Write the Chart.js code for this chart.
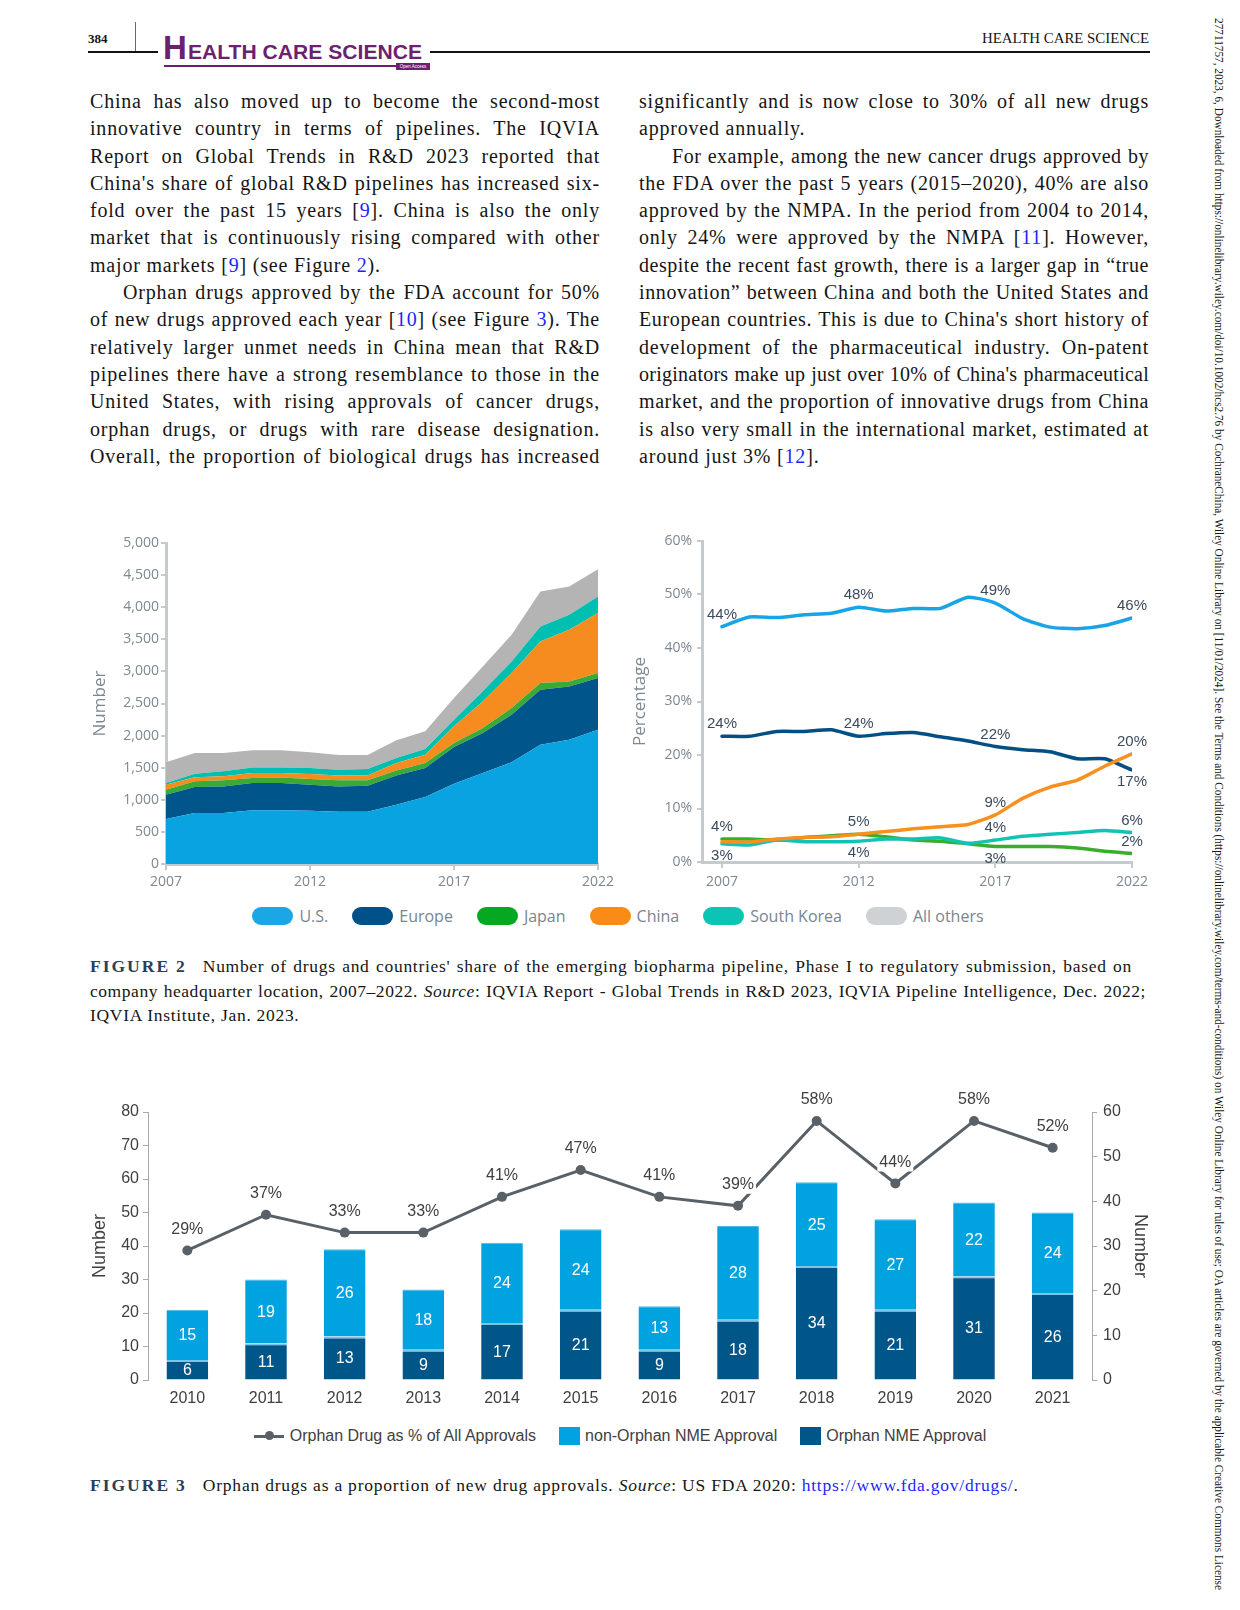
<!DOCTYPE html>
<html><head><meta charset="utf-8">
<script src="https://cdn.jsdelivr.net/npm/chart.js@4.4.0/dist/chart.umd.min.js"></script>
<style>
html,body{margin:0;padding:0;background:#fff;}
#page{position:relative;width:1240px;height:1610px;overflow:hidden;font-family:"Liberation Serif",serif;color:#151515;background:#fff;}
.abs{position:absolute;}
.col{position:absolute;width:510px;font-size:20px;line-height:27.3px;}
.ln{display:block;white-space:nowrap;height:27.3px;}
.ln .t{display:inline-block;white-space:nowrap;}
.ref{color:#1f1fff;}
.cap{position:absolute;left:90px;font-size:17.5px;line-height:24.5px;}
.cap .ln{height:24.5px;}
.fig{font-weight:bold;letter-spacing:2px;color:#2b3d57;margin-right:16px;}
.leg{position:absolute;display:flex;justify-content:center;align-items:center;}
.leg .it{display:flex;align-items:center;}
canvas{position:absolute;}
</style>
</head><body><div id="page">

<!-- header -->
<div class="abs" style="left:88px;top:31px;font:bold 13px 'Liberation Serif';">384</div>
<div class="abs" style="left:135px;top:22px;width:1px;height:30px;background:#8b5e3c;"></div>
<div class="abs" style="left:88px;top:51px;width:1062px;height:2px;background:#111;"></div>
<div class="abs" style="left:158px;top:32px;width:272px;height:40px;background:#fff;"></div>
<div class="abs" style="left:163px;top:31px;font:bold 33px 'Liberation Sans';line-height:33px;color:#6d1f70;">H</div>
<div class="abs" id="logoText" style="left:188px;top:41px;font:bold 21px 'Liberation Sans Narrow','Liberation Sans';line-height:21px;color:#6d1f70;transform-origin:0 0;white-space:nowrap;">EALTH CARE SCIENCE</div>
<div class="abs" style="left:164px;top:65px;width:232px;height:2px;background:#6d1f70;"></div>
<div class="abs" style="left:396px;top:63px;width:34px;height:7px;background:#6d1f70;color:#fff;font:4.5px 'Liberation Sans';line-height:7px;text-align:center;">Open Access</div>
<div class="abs" id="hdrRight" style="left:982px;top:31px;font:14px 'Liberation Serif';white-space:nowrap;transform-origin:0 0;">HEALTH CARE SCIENCE</div>

<!-- right margin -->
<div class="abs" id="margin" style="left:1211px;top:18px;writing-mode:vertical-rl;font:13px 'Liberation Serif';white-space:nowrap;transform-origin:0 0;">27711757, 2023, 6, Downloaded from https://onlinelibrary.wiley.com/doi/10.1002/hcs2.76 by CochraneChina, Wiley Online Library on [11/01/2024]. See the Terms and Conditions (https://onlinelibrary.wiley.com/terms-and-conditions) on Wiley Online Library for rules of use; OA articles are governed by the applicable Creative Commons License</div>

<div class="col" id="colL" style="left:90px;top:88px;"></div>
<div class="col" id="colR" style="left:639px;top:88px;"></div>

<canvas id="areaChart" width="545" height="385" style="left:80px;top:515px;width:545px;height:385px;"></canvas>
<canvas id="shareChart" width="545" height="385" style="left:615px;top:515px;width:545px;height:385px;"></canvas>
<div class="leg" id="leg2" style="left:0;top:905px;width:1236px;height:22px;font:16px 'Open Sans';color:#7a858e;"></div>

<div class="cap" id="cap2" style="top:954px;"></div>

<canvas id="orphanChart" width="1070" height="345" style="left:85px;top:1065px;width:1070px;height:345px;"></canvas>
<div class="leg" id="leg3" style="left:0;top:1425px;width:1240px;height:22px;font:16px 'Liberation Sans';color:#404040;"></div>

<div class="cap" id="cap3" style="top:1473px;"></div>
</div>

<script>
// ---------------- DATA ----------------
const years = [2007,2008,2009,2010,2011,2012,2013,2014,2015,2016,2017,2018,2019,2020,2021,2022];
const yearTicks = [2007,2012,2017,2022];
const seriesNames = ['U.S.','Europe','Japan','China','South Korea','All others'];

// Number of drugs in pipeline (stacked area)
const usCount     = [700,794,794,836,836,830,815,815,924,1043,1251,1417,1583,1858,1936,2092];
const europeCount = [380,405,415,425,425,405,394,405,456,452,571,623,742,856,830,804];
const japanCount  = [77,88,94,78,88,88,94,83,78,78,62,78,104,104,78,78];
const chinaCount  = [78,63,62,78,68,78,77,77,115,129,260,415,545,649,805,934];
const koreaCount  = [26,57,78,88,88,94,89,99,77,88,104,156,182,234,233,260];
const othersCount = [322,321,285,265,265,244,228,218,276,276,337,389,415,544,441,425];
const countTicks = [0,500,1000,1500,2000,2500,3000,3500,4000,4500,5000];

// Share of pipeline (%)
const usShare     = [44.0,45.8,45.7,46.2,46.5,47.6,46.9,47.4,47.4,49.5,48.4,45.5,43.9,43.6,44.2,45.6];
const europeShare = [23.5,23.5,24.4,24.4,24.7,23.5,24.0,24.2,23.4,22.6,21.6,21.0,20.6,19.3,19.3,17.2];
const chinaShare  = [3.8,3.7,4.3,4.6,4.7,5.2,5.7,6.2,6.6,7.0,8.8,11.9,14.0,15.3,17.9,20.2];
const japanShare  = [4.3,4.3,4.1,4.6,4.9,5.2,4.7,4.1,3.9,3.4,2.9,2.9,2.9,2.6,2.0,1.6];
const koreaShare  = [3.4,3.2,4.1,3.8,3.8,3.9,4.3,4.3,4.5,3.5,4.1,4.8,5.2,5.5,5.9,5.5];
const shareTicks = [0,10,20,30,40,50,60];
const shareLabels = [
  ['U.S.',2007,'44%','above'],['U.S.',2012,'48%','above'],['U.S.',2017,'49%','above'],['U.S.',2022,'46%','above'],
  ['Europe',2007,'24%','above'],['Europe',2012,'24%','above'],['Europe',2017,'22%','above'],['Europe',2022,'17%','below'],
  ['China',2017,'9%','above'],['China',2022,'20%','above'],
  ['Japan',2007,'4%','above'],['South Korea',2007,'3%','below'],
  ['Japan',2012,'5%','above'],['South Korea',2012,'4%','below'],
  ['South Korea',2017,'4%','above'],['Japan',2017,'3%','below'],
  ['South Korea',2022,'6%','above'],['Japan',2022,'2%','above']
];

// FDA approvals
const approvalYears = ['2010','2011','2012','2013','2014','2015','2016','2017','2018','2019','2020','2021'];
const orphanNME    = [6,11,13,9,17,21,9,18,34,21,31,26];
const nonOrphanNME = [15,19,26,18,24,24,13,28,25,27,22,24];
const orphanPct    = [29,37,33,33,41,47,41,39,58,44,58,52];
const approvalSeries = ['Orphan Drug as % of All Approvals','non-Orphan NME Approval','Orphan NME Approval'];

// ---------------- STYLES ----------------
const areaColors  = {'U.S.':'#0aa3e2','Europe':'#00568a','Japan':'#3aa935','China':'#f68b1f','South Korea':'#00bfb0','All others':'#b4b4b4'};
const lineColors  = {'U.S.':'#19a4e6','Europe':'#024f84','Japan':'#3aae2c','China':'#f7901e','South Korea':'#14c2b3'};
const legendColors= {'U.S.':'#1ba6e6','Europe':'#00508a','Japan':'#06a822','China':'#f98b16','South Korea':'#0cc4b4','All others':'#cfd2d4'};
const grayTick = '#7d8891';
const axisGray = '#c5cacf';
const shareXLead = 0.73; // gap (in years) between y-axis and first year on share chart

// ---------------- TEXT ----------------
const leftLines = [
 ['China has also moved up to become the second-most',''],
 ['innovative country in terms of pipelines. The IQVIA',''],
 ['Report on Global Trends in R&amp;D 2023 reported that',''],
 ['China\'s share of global R&amp;D pipelines has increased six-',''],
 ['fold over the past 15 years [<span class="ref">9</span>]. China is also the only',''],
 ['market that is continuously rising compared with other',''],
 ['major markets [<span class="ref">9</span>] (see Figure <span class="ref">2</span>).','L'],
 ['Orphan drugs approved by the FDA account for 50%','I'],
 ['of new drugs approved each year [<span class="ref">10</span>] (see Figure <span class="ref">3</span>). The',''],
 ['relatively larger unmet needs in China mean that R&amp;D',''],
 ['pipelines there have a strong resemblance to those in the',''],
 ['United States, with rising approvals of cancer drugs,',''],
 ['orphan drugs, or drugs with rare disease designation.',''],
 ['Overall, the proportion of biological drugs has increased','']
];
const rightLines = [
 ['significantly and is now close to 30% of all new drugs',''],
 ['approved annually.','L'],
 ['For example, among the new cancer drugs approved by','I'],
 ['the FDA over the past 5 years (2015–2020), 40% are also',''],
 ['approved by the NMPA. In the period from 2004 to 2014,',''],
 ['only 24% were approved by the NMPA [<span class="ref">11</span>]. However,',''],
 ['despite the recent fast growth, there is a larger gap in “true',''],
 ['innovation” between China and both the United States and',''],
 ['European countries. This is due to China\'s short history of',''],
 ['development of the pharmaceutical industry. On-patent',''],
 ['originators make up just over 10% of China\'s pharmaceutical',''],
 ['market, and the proportion of innovative drugs from China',''],
 ['is also very small in the international market, estimated at',''],
 ['around just 3% [<span class="ref">12</span>].','L']
];
const cap2Lines = [
 ['<span class="fig">FIGURE<span style="margin-left:6px">2</span></span>Number of drugs and countries\' share of the emerging biopharma pipeline, Phase I to regulatory submission, based on',1042],
 ['company headquarter location, 2007–2022. <i>Source</i>: IQVIA Report - Global Trends in R&amp;D 2023, IQVIA Pipeline Intelligence, Dec. 2022;',1056],
 ['IQVIA Institute, Jan. 2023.',0]
];
const cap3Lines = [
 ['<span class="fig">FIGURE<span style="margin-left:6px">3</span></span>Orphan drugs as a proportion of new drug approvals. <i>Source</i>: US FDA 2020: <span class="ref">https://www.fda.gov/drugs/</span>.',-934]
];

function buildCol(id, lines, width){
  const col = document.getElementById(id);
  lines.forEach(([html,flag])=>{
    const d = document.createElement('div'); d.className='ln';
    const s = document.createElement('span'); s.className='t'; s.innerHTML=html;
    if(flag==='I') s.style.paddingLeft='33px';
    d.appendChild(s); col.appendChild(d);
    if(flag!=='L') fitLine(s, width, 0.8); else s.style.letterSpacing='0.8px';
  });
}
function buildCap(id, lines){
  const col = document.getElementById(id);
  lines.forEach(([html,w])=>{
    const d = document.createElement('div'); d.className='ln';
    const s = document.createElement('span'); s.className='t'; s.innerHTML=html;
    d.appendChild(s); col.appendChild(d);
    if(w>0) fitLine(s, w, 0.7);
    else if(w<0) fitLetters(s, -w);
    else s.style.letterSpacing='0.7px';
  });
}
function fitLine(el, target, ls0){
  el.style.letterSpacing=ls0+'px'; el.style.wordSpacing='0px';
  let w = el.getBoundingClientRect().width;
  const n = (el.textContent.match(/ /g)||[]).length;
  const c = el.textContent.length;
  if(n>0 && (target-w)/n < 0.8){
    const ls = ls0 + (target - w - n*0.8)/c;
    el.style.letterSpacing=ls+'px';
    w = el.getBoundingClientRect().width;
  }
  if(n>0) el.style.wordSpacing = ((target-w)/n)+'px';
}
function fitLetters(el, target){
  el.style.letterSpacing='0px';
  const w = el.getBoundingClientRect().width;
  el.style.letterSpacing = ((target-w)/el.textContent.length)+'px';
}
function fitScaleX(id, target){
  const el=document.getElementById(id); const w=el.getBoundingClientRect().width;
  el.style.transform='scaleX('+(target/w)+')';
}
function fitScaleY(id, target){
  const el=document.getElementById(id); const h=el.getBoundingClientRect().height;
  el.style.transform='scaleY('+(target/h)+')';
}

function buildLegends(){
  const l2 = document.getElementById('leg2'); l2.style.gap='24px';
  seriesNames.forEach(n=>{
    const it=document.createElement('div'); it.className='it';
    it.innerHTML='<span style="display:inline-block;width:41px;height:18px;border-radius:9px;background:'+legendColors[n]+';margin-right:6px"></span><span>'+n+'</span>';
    l2.appendChild(it);
  });
  const l3 = document.getElementById('leg3'); l3.style.gap='23px';
  const marks = [
    '<span style="position:relative;display:inline-block;width:30px;height:3px;background:#596168;margin-right:6px"><span style="position:absolute;left:11px;top:-3.5px;width:9px;height:9px;border-radius:50%;background:#596168"></span></span>',
    '<span style="display:inline-block;width:21px;height:18px;background:#00a3e0;margin-right:5px"></span>',
    '<span style="display:inline-block;width:21px;height:18px;background:#005589;margin-right:5px"></span>'
  ];
  approvalSeries.forEach((n,i)=>{
    const it=document.createElement('div'); it.className='it';
    it.innerHTML=marks[i]+'<span>'+n+'</span>';
    l3.appendChild(it);
  });
}

// ---------------- CHARTS ----------------
Chart.defaults.animation = false;

function pts(vals){ return years.map((y,i)=>({x:y,y:vals[i]})); }

function buildArea(){
  const counts = [usCount,europeCount,japanCount,chinaCount,koreaCount,othersCount];
  new Chart(document.getElementById('areaChart'),{
    type:'line',
    data:{datasets: seriesNames.map((n,i)=>({
      label:n, data:pts(counts[i]), fill: i===0?'origin':'-1',
      backgroundColor:areaColors[n], borderWidth:0, pointRadius:0, tension:0
    }))},
    options:{
      responsive:false, animation:false,
      layout:{padding:{top:28,right:27,left:0,bottom:0}},
      plugins:{legend:{display:false},tooltip:{enabled:false}},
      scales:{
        x:{type:'linear',min:2007,max:2022,
           afterBuildTicks:s=>{s.ticks=yearTicks.map(v=>({value:v}));},
           afterFit:s=>{s.height=36;},
           ticks:{callback:v=>String(v),color:grayTick,font:{family:'Open Sans',size:14},padding:4,maxRotation:0},
           grid:{display:true,drawOnChartArea:false,drawTicks:true,tickLength:6,color:axisGray,lineWidth:2},
           border:{display:true,color:axisGray,width:3}},
        y:{type:'linear',stacked:true,min:0,max:5000,
           afterBuildTicks:s=>{s.ticks=countTicks.map(v=>({value:v}));},
           afterFit:s=>{s.width=86;},
           ticks:{callback:v=>v.toLocaleString('en-US'),color:grayTick,font:{family:'Open Sans',size:14},padding:2},
           grid:{display:true,drawOnChartArea:false,drawTicks:true,tickLength:5,color:axisGray,lineWidth:2},
           border:{display:true,color:axisGray,width:3},
           title:{display:true,text:'Number',color:grayTick,font:{family:'Open Sans',size:17},padding:{top:10,bottom:0}}}
      }
    }
  });
}

function buildShare(){
  const shares = {'U.S.':usShare,'Europe':europeShare,'Japan':japanShare,'China':chinaShare,'South Korea':koreaShare};
  const drawOrder = ['China','South Korea','Japan','Europe','U.S.'];
  const labelPlugin = {
    id:'shareLabels',
    afterDatasetsDraw(chart){
      const ctx=chart.ctx; ctx.save();
      ctx.font='15px "Liberation Sans Narrow", "Liberation Sans", sans-serif';
      ctx.fillStyle='#3b4a5d'; ctx.textAlign='center'; ctx.textBaseline='middle';
      shareLabels.forEach(([name,yr,txt,pos])=>{
        const di = drawOrder.indexOf(name); const idx = years.indexOf(yr);
        const el = chart.getDatasetMeta(di).data[idx];
        ctx.fillText(txt, el.x, el.y + (pos==='above'?-12:12));
      });
      ctx.restore();
    }
  };
  new Chart(document.getElementById('shareChart'),{
    type:'line',
    data:{datasets: drawOrder.map(n=>({
      label:n, data:pts(shares[n]), borderColor:lineColors[n], borderWidth:3.5,
      pointRadius:0, tension:0.2, fill:false, borderJoinStyle:'round', borderCapStyle:'round'
    }))},
    options:{
      responsive:false, animation:false,
      layout:{padding:{top:26,right:28,left:0,bottom:0}},
      plugins:{legend:{display:false},tooltip:{enabled:false}},
      scales:{
        x:{type:'linear',min:years[0]-shareXLead,max:2022,
           afterBuildTicks:s=>{s.ticks=yearTicks.map(v=>({value:v}));},
           afterFit:s=>{s.height=38;},
           ticks:{callback:v=>String(v),color:grayTick,font:{family:'Open Sans',size:14},padding:6,maxRotation:0},
           grid:{display:true,drawOnChartArea:false,drawTicks:true,tickLength:6,color:axisGray,lineWidth:2},
           border:{display:true,color:axisGray,width:3}},
        y:{type:'linear',min:0,max:60,
           afterBuildTicks:s=>{s.ticks=shareTicks.map(v=>({value:v}));},
           afterFit:s=>{s.width=87;},
           ticks:{callback:v=>v+'%',color:grayTick,font:{family:'Open Sans',size:14},padding:5},
           grid:{display:true,drawOnChartArea:false,drawTicks:true,tickLength:5,color:axisGray,lineWidth:2},
           border:{display:true,color:axisGray,width:3},
           title:{display:true,text:'Percentage',color:grayTick,font:{family:'Open Sans',size:17},padding:{top:15,bottom:0}}}
      }
    },
    plugins:[labelPlugin]
  });
}

function buildOrphan(){
  const labelPlugin = {
    id:'orphanLabels',
    afterDatasetsDraw(chart){
      const ctx=chart.ctx; ctx.save();
      ctx.textAlign='center'; ctx.textBaseline='middle';
      ctx.font='16px "Liberation Sans", Arial, sans-serif';
      [1,2].forEach(di=>{
        const meta=chart.getDatasetMeta(di); const ds=chart.data.datasets[di];
        meta.data.forEach((el,i)=>{
          ctx.fillStyle='#ffffff';
          ctx.fillText(String(ds.data[i]), el.x, (el.y+el.base)/2+1);
        });
      });
      const lm=chart.getDatasetMeta(0);
      lm.data.forEach((el,i)=>{
        const t=orphanPct[i]+'%'; const w=ctx.measureText(t).width;
        const cy=el.y-21;
        ctx.fillStyle='#ffffff'; ctx.fillRect(el.x-w/2-2, cy-9, w+4, 18);
        ctx.fillStyle='#404040'; ctx.fillText(t, el.x, cy);
      });
      ctx.restore();
    }
  };
  const tickFont={family:'Liberation Sans',size:16};
  new Chart(document.getElementById('orphanChart'),{
    data:{labels:approvalYears, datasets:[
      {type:'line',label:approvalSeries[0],data:orphanPct,yAxisID:'y1',borderColor:'#596168',backgroundColor:'#596168',
       borderWidth:3,pointRadius:5,pointBackgroundColor:'#596168',pointBorderWidth:0,tension:0},
      {type:'bar',label:approvalSeries[2],data:orphanNME,yAxisID:'y',backgroundColor:'#005589',
       borderColor:'#7cc3ea',borderWidth:{top:2,left:0,right:0,bottom:0},borderSkipped:'start',barPercentage:0.53,categoryPercentage:1},
      {type:'bar',label:approvalSeries[1],data:nonOrphanNME,yAxisID:'y',backgroundColor:'#00a3e0',
       borderColor:'#49b8e8',borderWidth:{top:1,left:0,right:0,bottom:0},borderSkipped:'start',barPercentage:0.53,categoryPercentage:1}
    ]},
    options:{
      responsive:false, animation:false,
      layout:{padding:{top:47,right:0,left:0,bottom:0}},
      plugins:{legend:{display:false},tooltip:{enabled:false}},
      scales:{
        x:{stacked:true,offset:true,afterFit:s=>{s.height=30;},
           ticks:{color:'#404040',font:tickFont,padding:1,maxRotation:0},
           grid:{display:false},border:{display:false}},
        y:{stacked:true,position:'left',min:0,max:80,
           ticks:{stepSize:10,color:'#404040',font:tickFont,padding:4},
           afterFit:s=>{s.width=63;},
           grid:{display:true,drawOnChartArea:false,drawTicks:true,tickLength:5,color:'#a9a9a9'},
           border:{display:true,color:'#a9a9a9',width:1},
           title:{display:true,text:'Number',color:'#404040',font:{family:'Liberation Sans',size:18},padding:{top:4,bottom:0}}},
        y1:{position:'right',min:0,max:60,
           ticks:{stepSize:10,color:'#404040',font:tickFont,padding:6},
           afterFit:s=>{s.width=63;},
           grid:{display:true,drawOnChartArea:false,drawTicks:true,tickLength:5,color:'#a9a9a9'},
           border:{display:true,color:'#a9a9a9',width:1},
           title:{display:true,text:'Number',color:'#404040',font:{family:'Liberation Sans',size:18},padding:{top:4,bottom:0}}}
      }
    },
    plugins:[labelPlugin]
  });
}

function init(){
  buildCol('colL', leftLines, 510);
  buildCol('colR', rightLines, 510);
  buildCap('cap2', cap2Lines);
  buildCap('cap3', cap3Lines);
  fitScaleX('logoText', 234);
  fitScaleX('hdrRight', 167);
  fitScaleY('margin', 1572);
  buildLegends();
  buildArea(); buildShare(); buildOrphan();
}
if(document.fonts && document.fonts.ready){ document.fonts.ready.then(init); } else { init(); }
</script>
</body></html>
